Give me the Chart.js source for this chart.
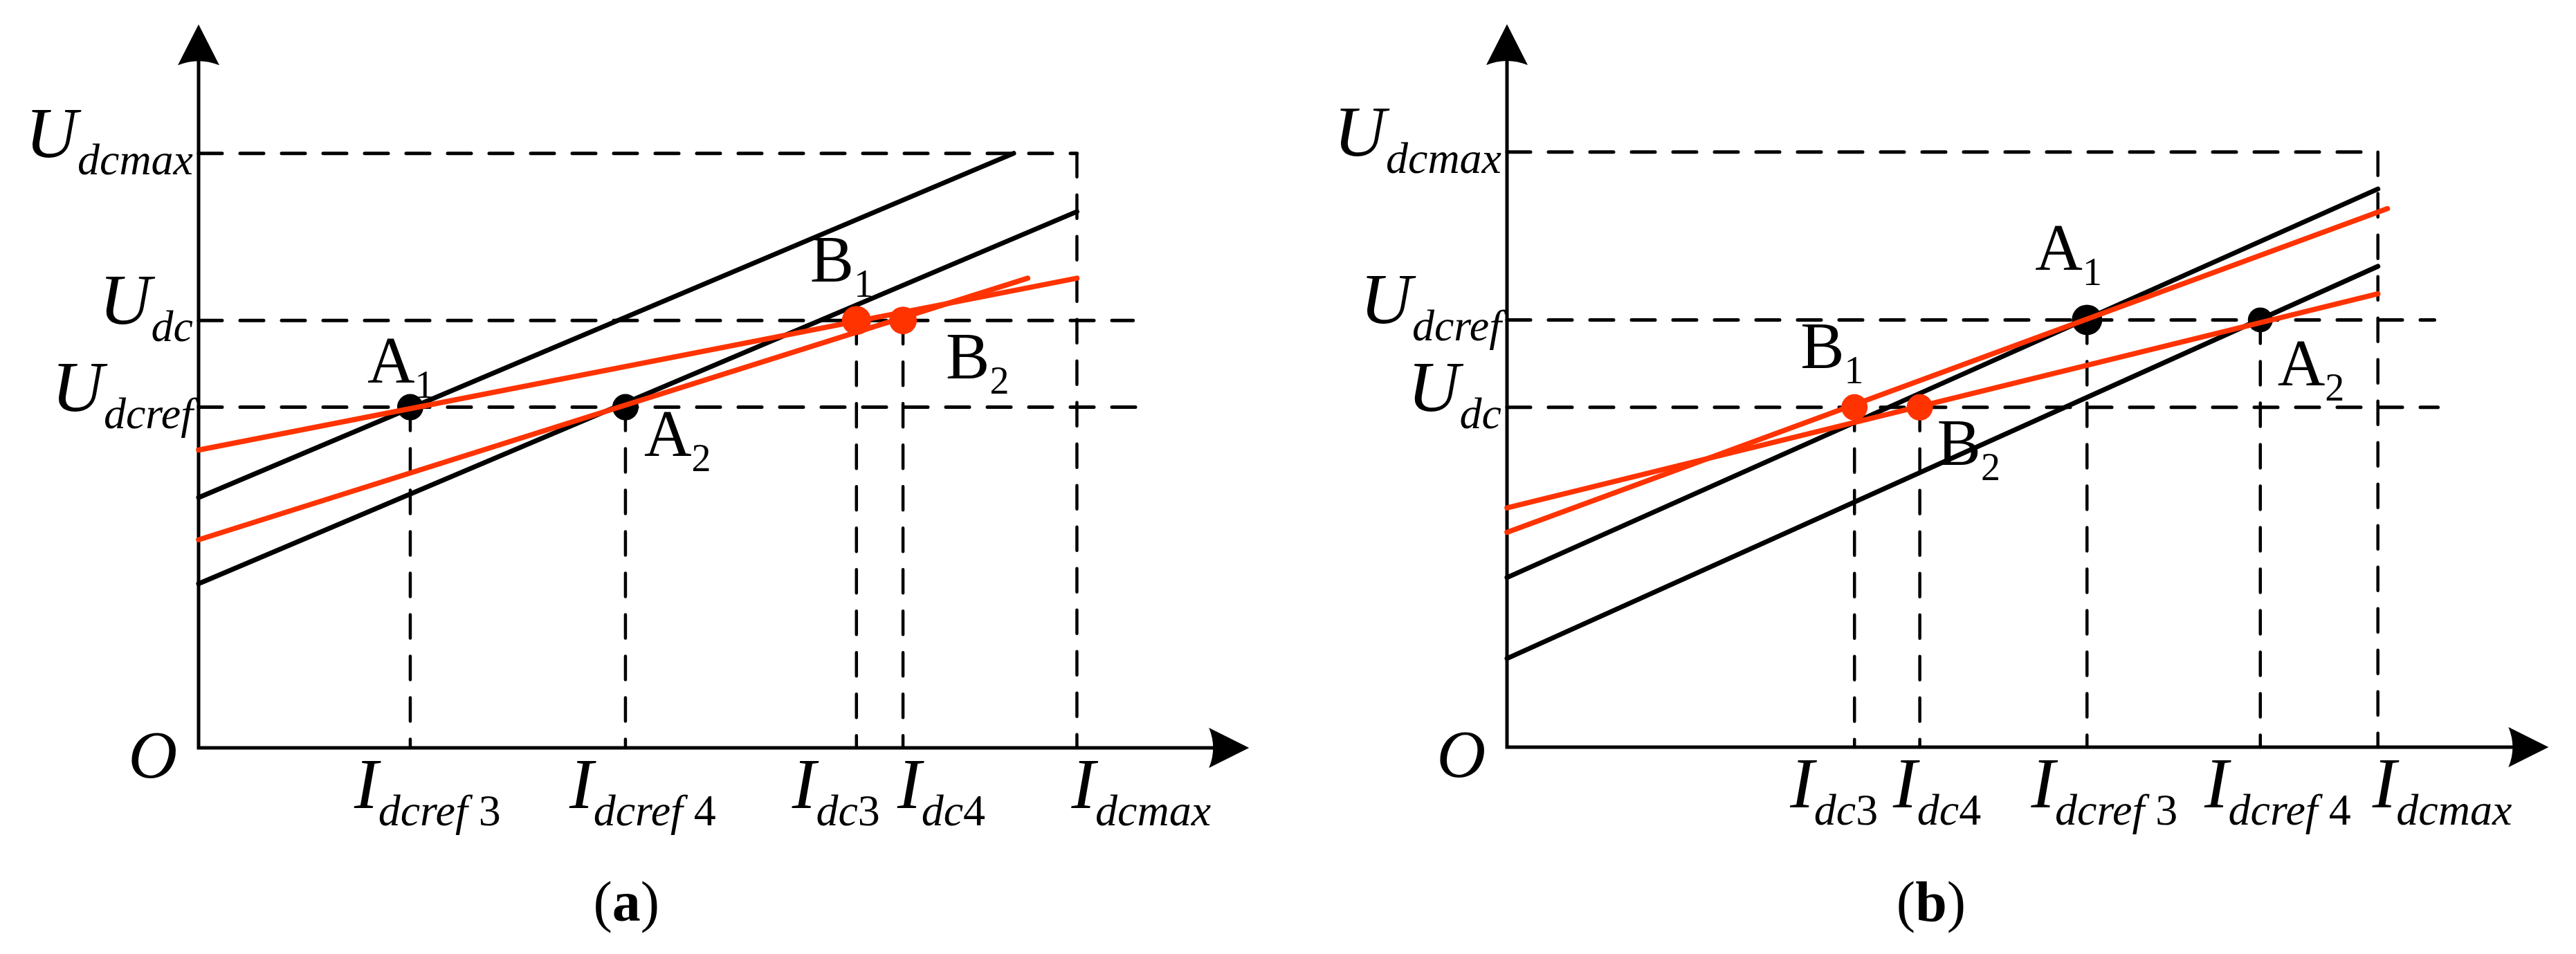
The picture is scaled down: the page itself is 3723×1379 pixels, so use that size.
<!DOCTYPE html>
<html>
<head>
<meta charset="utf-8">
<script src="https://cdn.jsdelivr.net/npm/chart.js@4.4.1/dist/chart.umd.min.js"></script>
<style>
  html, body { margin: 0; padding: 0; background: #fff; }
  body { width: 3723px; height: 1379px; position: relative; overflow: hidden; }
  canvas { position: absolute; top: 0; }
  #panelA { left: 0; }
  #panelB { left: 1861px; }
</style>
</head>
<body>
<canvas id="panelA" width="1861" height="1379"></canvas>
<canvas id="panelB" width="1862" height="1379"></canvas>
<script>
// ---- panel (a) values (axis units: I_dcmax = 10, U_dcmax = 10) ----
const aXTicks = [2.41, 4.86, 7.49, 8.02, 10];
const aXNames = ['dcref 3', 'dcref 4', 'dc3', 'dc4', 'dcmax'];
const aXGuideTop = [5.73, 5.73, 7.19, 7.19, 10];
const aYTicks = [10, 7.19, 5.73];
const aYNames = ['dcmax', 'dc', 'dcref'];
const aYGuideEnd = [10, 10.64, 10.71];
const aBlackX = [[0, 9.28], [0, 10]];
const aBlackY = [[4.21, 10], [2.76, 9.02]];
const aRedX = [[0, 10], [0, 9.44]];
const aRedY = [[5.01, 7.90], [3.50, 7.90]];
const aPointNames = ['A1', 'A2', 'B1', 'B2'];
const aPointX = [2.41, 4.86, 7.49, 8.02];
const aPointY = [5.73, 5.73, 7.19, 7.19];
const aAxisEnd = [11.96, 12.17];

// ---- panel (b) values ----
const bXTicks = [3.99, 4.74, 6.66, 8.65, 10];
const bXNames = ['dc3', 'dc4', 'dcref 3', 'dcref 4', 'dcmax'];
const bXGuideTop = [5.71, 5.71, 7.18, 7.18, 10];
const bYTicks = [10, 7.18, 5.71];
const bYNames = ['dcmax', 'dcref', 'dc'];
const bYGuideEnd = [10, 10.65, 10.69];
const bBlackX = [[0, 10], [0, 10]];
const bBlackY = [[2.85, 9.38], [1.49, 8.08]];
const bRedX = [[0, 10.11], [0, 10]];
const bRedY = [[3.61, 9.05], [4.02, 7.62]];
const bPointNames = ['A1', 'A2', 'B1', 'B2'];
const bPointX = [6.66, 8.65, 3.99, 4.74];
const bPointY = [7.18, 7.18, 5.71, 5.71];
const bAxisEnd = [11.96, 12.15];

// Theme
const colors = { black: '#000000', red: '#ff3300' };
const family = '"Liberation Serif", "DejaVu Serif", serif';

const layoutA = {
    padding: { left: 287, right: 38, top: 24, bottom: 298 },
    pointRadius: [19, 19, 21, 20],
    pointColor: ['black', 'black', 'red', 'red'],
    labelOffset: [[-62, -36], [27, 70], [-67, -56], [62, 84]],
    xLabelAlign: ['center', 'center', 'right', 'left', 'left'],
    caption: 'a',
    captionX: 4.87
};
const layoutB = {
    padding: { left: 317, right: 11, top: 22, bottom: 299 },
    pointRadius: [22, 18, 19, 19],
    pointColor: ['black', 'black', 'red', 'red'],
    labelOffset: [[-75, -72], [25, 95], [-78, -57], [25, 83]],
    xLabelAlign: ['right', 'center', 'center', 'center', 'left'],
    caption: 'b',
    captionX: 4.87
};

const panelA = {
    xTicks: aXTicks, xNames: aXNames, xGuideTop: aXGuideTop,
    yTicks: aYTicks, yNames: aYNames, yGuideEnd: aYGuideEnd,
    blackX: aBlackX, blackY: aBlackY, redX: aRedX, redY: aRedY,
    pointNames: aPointNames, pointX: aPointX, pointY: aPointY, axisEnd: aAxisEnd
};
const panelB = {
    xTicks: bXTicks, xNames: bXNames, xGuideTop: bXGuideTop,
    yTicks: bYTicks, yNames: bYNames, yGuideEnd: bYGuideEnd,
    blackX: bBlackX, blackY: bBlackY, redX: bRedX, redY: bRedY,
    pointNames: bPointNames, pointX: bPointX, pointY: bPointY, axisEnd: bAxisEnd
};

function lineSet(xs, ys, color, width, dash, order) {
    return {
        data: xs.map((x, i) => ({ x: x, y: ys[i] })),
        showLine: true,
        borderColor: color,
        borderWidth: width,
        borderDash: dash,
        borderCapStyle: 'round',
        pointRadius: 0,
        pointHoverRadius: 0,
        clip: false,
        order: order
    };
}

function buildDatasets(d, lay) {
    const ds = [];
    // dashed guides
    d.yTicks.forEach((v, i) => {
        ds.push(lineSet([0, d.yGuideEnd[i]], [v, v], colors.black, 5, [34, 26], 6));
    });
    d.xTicks.forEach((v, i) => {
        ds.push(lineSet([v, v], [d.xGuideTop[i], 0], colors.black, 4.5, [34, 26], 6));
    });
    // characteristic lines
    d.blackX.forEach((xs, i) => ds.push(lineSet(xs, d.blackY[i], colors.black, 7, [], 4)));
    d.redX.forEach((xs, i) => ds.push(lineSet(xs, d.redY[i], colors.red, 7.5, [], 2)));
    // operating points
    ['black', 'red'].forEach(c => {
        const idx = d.pointNames.map((n, i) => i).filter(i => lay.pointColor[i] === c);
        ds.push({
            data: idx.map(i => ({ x: d.pointX[i], y: d.pointY[i] })),
            showLine: false,
            pointRadius: idx.map(i => lay.pointRadius[i]),
            pointHoverRadius: idx.map(i => lay.pointRadius[i]),
            pointBackgroundColor: colors[c],
            pointBorderWidth: 0,
            clip: false,
            order: c === 'black' ? 3 : 1
        });
    });
    return ds;
}

// draw a run of text pieces: [{text, font, dy}]
function drawRich(ctx, parts, x, y, align) {
    let total = 0;
    parts.forEach(p => { ctx.font = p.font; p.w = ctx.measureText(p.text).width; total += p.w; });
    let cx = x;
    if (align === 'center') cx = x - total / 2;
    if (align === 'right') cx = x - total;
    parts.forEach(p => {
        ctx.font = p.font;
        ctx.fillText(p.text, cx, y + (p.dy || 0));
        cx += p.w;
    });
}

// subscript: letters italic, digits upright
function subParts(sub, size, dy) {
    return sub.split(/(\d+)/).filter(s => s.length).map(s => ({
        text: s,
        font: (/\d/.test(s) ? '' : 'italic ') + size + 'px ' + family,
        dy: dy
    }));
}

function diagramPlugin(d, lay) {
    return {
        id: 'diagram',
        beforeDatasetsDraw(chart) {
            const { ctx, scales: { x, y } } = chart;
            const x0 = x.getPixelForValue(0), y0 = y.getPixelForValue(0);
            const xTip = x.getPixelForValue(d.axisEnd[0]);
            const yTip = y.getPixelForValue(d.axisEnd[1]);
            ctx.save();
            ctx.strokeStyle = colors.black;
            ctx.fillStyle = colors.black;
            ctx.lineWidth = 5;
            ctx.lineCap = 'square';
            ctx.beginPath();
            ctx.moveTo(x0, y0);
            ctx.lineTo(xTip - 40, y0);
            ctx.moveTo(x0, y0);
            ctx.lineTo(x0, yTip + 40);
            ctx.stroke();
            // arrow heads with a slightly hollow back
            ctx.beginPath();
            ctx.moveTo(xTip, y0);
            ctx.lineTo(xTip - 58, y0 - 29);
            ctx.quadraticCurveTo(xTip - 46, y0, xTip - 58, y0 + 29);
            ctx.closePath();
            ctx.fill();
            ctx.beginPath();
            ctx.moveTo(x0, yTip);
            ctx.lineTo(x0 - 30, yTip + 59);
            ctx.quadraticCurveTo(x0, yTip + 47, x0 + 30, yTip + 59);
            ctx.closePath();
            ctx.fill();
            ctx.restore();
        },
        afterDraw(chart) {
            const { ctx, scales: { x, y } } = chart;
            const x0 = x.getPixelForValue(0), y0 = y.getPixelForValue(0);
            ctx.save();
            ctx.fillStyle = colors.black;
            ctx.textBaseline = 'alphabetic';
            ctx.textAlign = 'left';
            // y axis labels
            d.yTicks.forEach((v, i) => {
                const py = y.getPixelForValue(v);
                const parts = [{ text: 'U', font: 'italic 104px ' + family, dy: 5 }]
                    .concat(subParts(d.yNames[i], 64, 30));
                drawRich(ctx, parts, x0 - 8, py, 'right');
            });
            // x axis labels
            const shift = { center: 25, right: 34, left: -8 };
            d.xTicks.forEach((v, i) => {
                const px = x.getPixelForValue(v);
                const al = lay.xLabelAlign[i];
                const parts = [{ text: 'I', font: 'italic 104px ' + family, dy: 87 }]
                    .concat(subParts(d.xNames[i], 64, 112));
                drawRich(ctx, parts, px + shift[al], y0, al);
            });
            // origin
            ctx.font = 'italic 98px ' + family;
            ctx.textAlign = 'center';
            ctx.fillText('O', x0 - 66, y0 + 43);
            ctx.textAlign = 'left';
            // point labels
            d.pointNames.forEach((n, i) => {
                const px = x.getPixelForValue(d.pointX[i]);
                const py = y.getPixelForValue(d.pointY[i]);
                const off = lay.labelOffset[i];
                drawRich(ctx, [
                    { text: n[0], font: '95px ' + family, dy: 0 },
                    { text: n.slice(1), font: '56px ' + family, dy: 22 }
                ], px + off[0], py + off[1], 'left');
            });
            // caption
            drawRich(ctx, [
                { text: '(', font: '82px ' + family },
                { text: lay.caption, font: 'bold 82px ' + family },
                { text: ')', font: '82px ' + family }
            ], x.getPixelForValue(lay.captionX), 1331, 'center');
            ctx.restore();
        }
    };
}

function makeChart(id, d, lay) {
    const ctx = document.getElementById(id).getContext('2d');
    return new Chart(ctx, {
        type: 'scatter',
        data: { datasets: buildDatasets(d, lay) },
        options: {
            responsive: false,
            animation: false,
            devicePixelRatio: 1,
            events: [],
            layout: { padding: lay.padding },
            plugins: {
                legend: { display: false },
                tooltip: { enabled: false }
            },
            scales: {
                x: { type: 'linear', min: 0, max: 12.1, display: false },
                y: { type: 'linear', min: 0, max: 12.3, display: false }
            }
        },
        plugins: [diagramPlugin(d, lay)]
    });
}

makeChart('panelA', panelA, layoutA);
makeChart('panelB', panelB, layoutB);
</script>
</body>
</html>
